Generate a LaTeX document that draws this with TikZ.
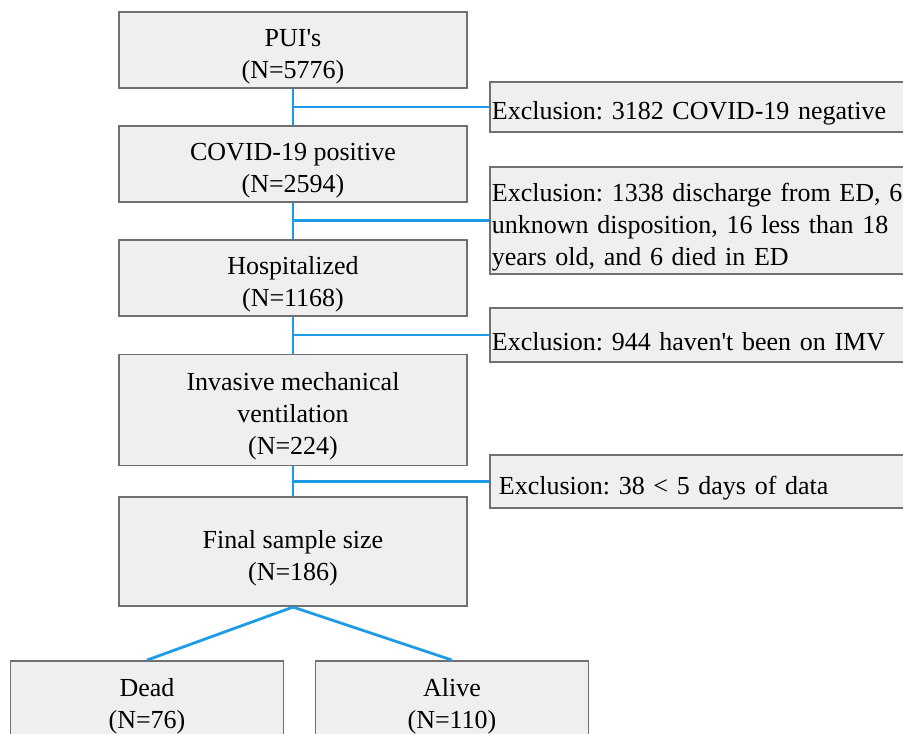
\documentclass[tikz,border=0pt]{standalone}
\usepackage{fontspec}
\setmainfont{Liberation Serif}
\usetikzlibrary{positioning, calc}
\definecolor{boxfill}{RGB}{239,239,239}
\definecolor{boxline}{RGB}{112,112,112}
\definecolor{linkblue}{RGB}{30,155,230}
\newcommand{\boxstrut}{\rule{0pt}{31pt}}
\frenchspacing

\begin{document}
\begin{tikzpicture}[
  x=1pt, y=-1pt,
  every node/.style={font=\fontsize{26}{32}\selectfont},
  box/.style={rectangle, draw=boxline, line width=1.8pt, fill=boxfill, minimum width=348pt, minimum height=76pt, align=center, inner sep=2pt},
  excl/.style={rectangle, draw=boxline, line width=1.8pt, fill=boxfill, text width=440pt, align=left, inner xsep=2pt, minimum height=52pt, execute at begin node=\boxstrut},
  link/.style={draw=linkblue, line width=2.8pt}
]
\useasboundingbox (0,0) rectangle (903,734);
\clip (0,0) rectangle (903,734);

% Flow boxes
\node[box] (pui) at (293,50) {\boxstrut PUI\textquotesingle s\\(N=5776)};
\node[box, below=36pt of pui] (covid) {\boxstrut COVID-19 positive\\(N=2594)};
\node[box, below=36pt of covid] (hosp) {\boxstrut Hospitalized\\(N=1168)};
\node[box, below=37pt of hosp, minimum height=111pt] (imv) {\boxstrut Invasive mechanical\\ventilation\\(N=224)};
\node[box, below=30pt of imv, minimum height=109pt] (final) {\boxstrut Final sample size\\(N=186)};

% Outcomes
\node[box, below=53pt of final, xshift=-146pt, minimum width=273pt, minimum height=78pt] (dead) {\boxstrut Dead\\(N=76)};
\node[box, below=53pt of final, xshift=159pt, minimum width=273pt, minimum height=78pt] (alive) {\boxstrut Alive\\(N=110)};

% Junctions
\coordinate (j1) at ($(pui.south)!0.5!(covid.north)$);
\coordinate (j2) at ($(covid.south)!0.5!(hosp.north)$);
\coordinate (j3) at ($(hosp.south)!0.5!(imv.north)$);
\coordinate (j4) at ($(imv.south)!0.5!(final.north)$);

% Exclusions
\node[excl, right=196pt of j1, minimum height=50pt] (ex1) {Exclusion: 3182 COVID-19 negative};
\node[excl, right=196pt of j2, minimum height=107pt] (ex2) {Exclusion: 1338 discharge from ED, 66\\unknown disposition, 16 less than 18\\years old, and 6 died in ED};
\node[excl, right=196pt of j3, minimum height=54pt] (ex3) {Exclusion: 944 haven\textquotesingle t been on IMV};
\node[excl, right=196pt of j4, minimum height=53pt, inner xsep=9pt] (ex4) {Exclusion: 38 < 5 days of data};

% Connectors
\draw[link] (pui) -- (covid);
\draw[link] (covid) -- (hosp);
\draw[link] (hosp) -- (imv);
\draw[link] (imv) -- (final);
\draw[link] (j1) -- (ex1);
\draw[link] (j2) -- (ex2);
\draw[link] (j3) -- (ex3);
\draw[link] (j4) -- (ex4);
\draw[link] (final.south) -- (dead.north);
\draw[link] (final.south) -- (alive.north);

\end{tikzpicture}
\end{document}
